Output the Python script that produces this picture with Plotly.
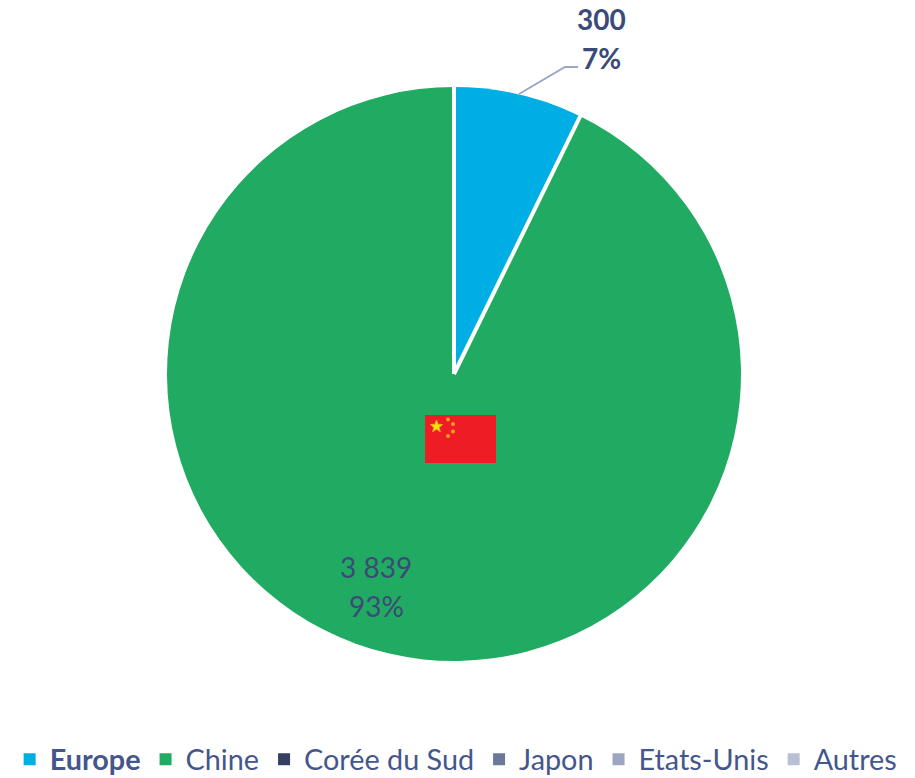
import math
import plotly.graph_objects as go

categories = ["Europe", "Chine", "Corée du Sud", "Japon", "Etats-Unis", "Autres"]
values = [300, 3839, 0, 0, 0, 0]
colors = ["#00AEE6", "#21AA62", "#333F63", "#6C7899", "#9CA5C1", "#B9C0D6"]
TEXT = "#3B4A78"
LEGEND_TEXT = "#44568C"
W, H = 915, 785  # slightly taller than the window: only the legend's bottom padding passes the edge
FONT = "Lato"
CX, CY, R = 454, 374, 287
total = sum(values)


def px(x):
    return x / W


def py(y):
    return 1 - y / H


def star(cx, cy, r):
    pts = []
    for i in range(10):
        rr = r if i % 2 == 0 else r * 0.42
        a = math.radians(-90 + 36 * i)
        pts.append((px(cx + rr * math.cos(a)), py(cy + rr * math.sin(a))))
    return "M" + " L".join(f"{a:.5f},{b:.5f}" for a, b in pts) + " Z"


labels = [("<b>" + c + "</b>") if c == "Europe" else c for c in categories]
fig = go.Figure(go.Pie(
    labels=labels, values=values, sort=False, direction="clockwise", rotation=0,
    marker=dict(colors=colors, line=dict(color="white", width=0)),
    textinfo="none", hoverinfo="label+value+percent",
    domain=dict(x=[px(CX - R), px(CX + R)], y=[py(CY + R), py(CY - R)]),
))

shapes = []
# white separators between the visible slices, at angles derived from the values
for cum in (0, values[0]):
    ang = 2 * math.pi * cum / total
    shapes.append(dict(type="line", xref="paper", yref="paper",
                       x0=px(CX), y0=py(CY),
                       x1=px(CX + (R + 2) * math.sin(ang)), y1=py(CY - (R + 2) * math.cos(ang)),
                       line=dict(color="white", width=4)))

shapes += [
    dict(type="path", xref="paper", yref="paper",
         path=f"M{px(519)},{py(94)} L{px(565)},{py(67)} L{px(578)},{py(67)}",
         line=dict(color="#9AA6CC", width=2)),
    dict(type="rect", xref="paper", yref="paper", x0=px(425), x1=px(496), y0=py(463), y1=py(415),
         fillcolor="#EE1C25", line=dict(width=0)),
    dict(type="path", xref="paper", yref="paper", path=star(436.5, 426.5, 6.5),
         fillcolor="#FFE000", line=dict(color="#F5A623", width=1)),
]
for cx, cy in [(448, 419.5), (453, 424), (453, 431.5), (448, 436)]:
    shapes.append(dict(type="circle", xref="paper", yref="paper",
                       x0=px(cx - 2), x1=px(cx + 2), y0=py(cy + 2), y1=py(cy - 2),
                       fillcolor="#EFA01E", line=dict(width=0)))


def fmt(v):
    return f"{v:,}".replace(",", " ")


def pct(v):
    return f"{round(100 * v / total)}%"


def note(x, y, text, bold=False):
    t = f"<b>{text}</b>" if bold else text
    return dict(x=px(x), y=py(y), xref="paper", yref="paper", text=t, showarrow=False,
                xanchor="center", yanchor="middle", font=dict(family=FONT, size=28, color=TEXT))


annotations = [
    note(601, 19, fmt(values[0]), True),
    note(601, 58, pct(values[0]), True),
    note(376, 567, fmt(values[1])),
    note(376, 606, pct(values[1])),
]

fig.update_layout(
    width=W, height=H, margin=dict(l=0, r=0, t=0, b=0),
    paper_bgcolor="white", font=dict(family=FONT),
    shapes=shapes, annotations=annotations,
    legend=dict(orientation="h", x=0.4985, xanchor="center", y=0, yanchor="bottom",
                font=dict(family=FONT, size=28.8, color=LEGEND_TEXT), traceorder="normal",
                itemclick=False, itemdoubleclick=False),
)
fig.write_html("out.html", config=dict(displayModeBar=False),
               post_script="document.body.style.margin='0';document.documentElement.style.overflow='hidden';document.body.style.overflow='hidden';")
